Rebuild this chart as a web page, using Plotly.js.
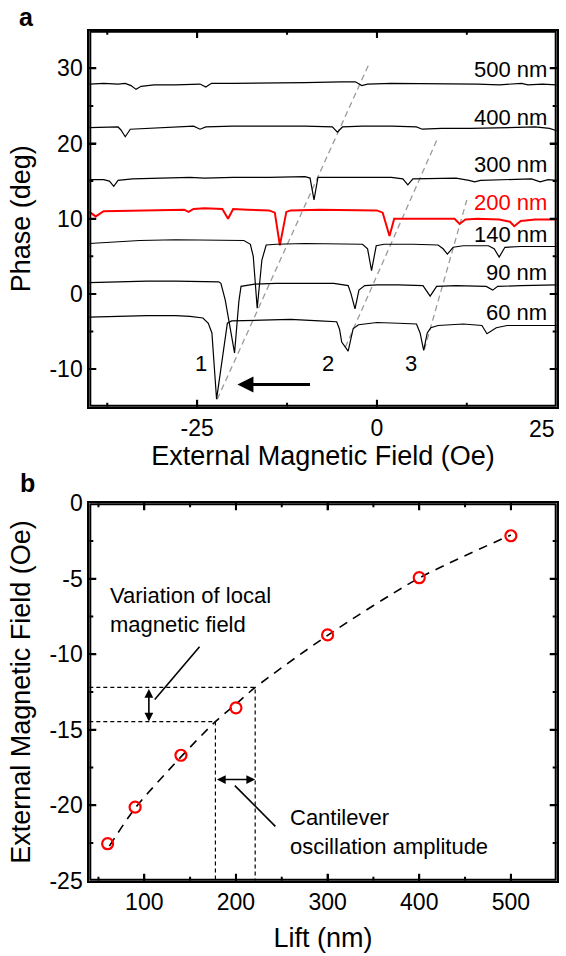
<!DOCTYPE html>
<html>
<head>
<meta charset="utf-8">
<script src="https://cdn.plot.ly/plotly-3.0.1.min.js"></script>
<style>html,body{margin:0;padding:0;background:#fff;}#chart{width:566px;height:956px;}</style>
</head>
<body>
<div id="chart"></div>
<script>
// ---------- Panel a: phase traces (field in Oe, phase in deg) ----------
const field500 = [-40,-38,-36,-35,-34.2,-33.5,-32.8,-31,-28,-26,-24.6,-23.8,-23.0,-20,-15,-10,-5,-3,-2.1,-1.3,2,6,10,14,17,19,20.1,21,23,25];
const phase500 = [27.9,28.0,27.9,28.0,27.7,27.2,27.6,27.8,27.8,27.9,27.9,27.5,28.0,28.0,28.1,28.1,28.2,28.2,27.7,27.9,28.0,28.0,27.9,27.9,27.8,27.9,28.0,27.8,27.9,27.8];
const field400 = [-40,-37,-36,-35.6,-35.0,-34.3,-32,-28,-25.5,-24.6,-23.8,-20,-15,-10,-6.2,-5.5,-4.8,-2,2,5.5,6.3,9,13,17,20,22,24,25];
const phase400 = [22.1,22.1,22.2,21.8,20.9,21.9,22.0,22.2,22.3,21.9,22.2,22.3,22.3,22.3,22.2,21.5,22.2,22.3,22.3,22.2,21.9,22.0,22.0,22.1,22.1,22.2,22.0,21.7];
const field300 = [-40,-38,-37.2,-36.6,-36.0,-34,-30,-26,-24,-20,-15,-10,-9.3,-8.75,-8.2,-6,-2,2,3.6,4.3,5.0,8,11,12.8,13.6,14.4,18,21.5,22.7,23.8,25];
const phase300 = [15.2,15.2,15.0,14.3,15.1,15.3,15.4,15.5,15.4,15.5,15.5,15.6,15.4,12.5,15.5,15.5,15.6,15.5,15.3,14.5,15.3,15.4,15.4,15.1,14.9,15.1,15.2,15.3,14.9,15.2,15.1];
const field200 = [-40,-39.1,-38,-34,-30,-26.8,-26.2,-25.5,-24,-21.5,-20.7,-20,-18,-15,-14.2,-13.5,-12.6,-12,-8,-4,0,0.8,1.75,2.4,3,6,9,10.8,11.5,12.3,14,17,18.5,19.1,20,22,25];
const phase200 = [10.9,10.3,11.0,11.1,11.2,11.2,10.9,11.3,11.4,11.3,10.0,11.3,11.2,11.1,10.8,6.45,10.9,11.1,11.2,11.2,11.1,10.8,7.7,10.0,10.0,10.1,10.1,10.0,9.3,9.9,10.0,9.9,9.6,9.0,9.7,9.9,9.9];
const field140 = [-40,-37,-33,-28,-24,-21,-18.5,-17.6,-17.2,-16.65,-16.0,-15.4,-14,-10,-6,-2,-1.3,-0.75,-0.1,1,5,8.5,9.2,9.8,10.6,12,15.5,16.3,17.0,17.8,20,25];
const phase140 = [6.7,6.9,7.1,7.2,7.2,7.2,7.1,6.6,5.0,-1.9,4.5,6.5,6.6,6.7,6.7,6.6,6.0,3.1,6.4,6.6,6.6,6.5,6.0,5.3,6.2,6.4,6.4,6.0,4.9,6.2,6.3,6.3];
const field90 = [-40,-36,-32,-28,-24,-22,-21.7,-21.1,-19.8,-19.2,-18.9,-17,-14,-10,-6,-4,-3.6,-3.05,-2.5,-1.7,0,3,6.4,7.4,8.3,11,15.2,16.1,16.8,20,25];
const phase90 = [1.5,1.6,1.7,1.7,1.7,1.6,1.4,-0.8,-7.85,-1.0,1.0,1.3,1.4,1.4,1.4,1.1,0.0,-2.0,0.5,1.1,1.2,1.2,1.1,-0.3,1.0,1.1,1.0,0.5,1.0,1.1,1.2];
const field60 = [-40,-36,-32,-28,-26,-24.2,-23.45,-22.95,-22.3,-20.8,-20.2,-16,-12,-8,-5.6,-5.2,-4.9,-4.0,-3.3,-2.55,0,3,5.5,6.0,6.5,7.0,7.5,8.5,12,14.6,15.3,16.6,18.1,25];
const phase60 = [-3.1,-3.0,-2.9,-2.9,-3.0,-3.2,-3.9,-5.2,-14.0,-3.9,-3.6,-3.5,-3.4,-3.6,-3.7,-4.7,-6.4,-7.6,-4.6,-4.1,-3.8,-3.9,-4.0,-5.2,-7.5,-5.2,-4.5,-4.2,-4.0,-4.2,-5.3,-4.5,-4.2,-4.2];

// gray dashed guides through the dips
const guide1Field = [-22.2, -1.0],  guide1Phase = [-14.0, 30.8];
const guide2Field = [-4.4, 8.35],   guide2Phase = [-7.1, 20.5];
const guide3Field = [6.6, 12.5],    guide3Phase = [-7.4, 12.5];

const traceLabels = ['500 nm','400 nm','300 nm','200 nm','140 nm','90 nm','60 nm'];
const labelPhase  = [29.9, 23.5, 17.2, 12.1, 7.9, 2.8, -2.5];
const dipNames = ['1','2','3'];
const dipNameField = [-24.4, -6.8, 4.75];
const dipNamePhase = [-9.2, -9.2, -9.2];

const aXRange = [-40, 25], aYRange = [-15, 35];
const aXTickVals = [-25, 0, 25], aXTickText = ['-25','0',''];
const aXMinor = [-37.5, -12.5, 12.5];
const aYTickVals = [-10, 0, 10, 20, 30], aYTickText = ['-10','0','10','20','30'];
const aYMinor = [-5, 5, 15, 25];

// ---------- Panel b ----------
const lift = [60, 90, 140, 200, 300, 400, 500];
const switchField = [-22.55, -20.13, -16.69, -13.55, -8.72, -4.93, -2.15];
const fitLift  = [62, 90, 140, 177.6, 200, 221, 300, 400, 500];
const fitField = [-22.7, -20.2, -16.8, -14.46, -13.3, -12.2, -8.75, -4.95, -2.1];
const guideLowLift = [40, 177.6, 177.6], guideLowField = [-14.46, -14.46, -25];
const guideHighLift = [40, 221, 221],    guideHighField = [-12.2, -12.2, -25];

const bXRange = [40, 550], bYRange = [-25, 0];
const bXTickVals = [100, 200, 300, 400, 500], bXTickText = ['100','200','300','400','500'];
const bXMinor = [50, 150, 250, 350, 450];
const bYTickVals = [0, -5, -10, -15, -20, -25], bYTickText = ['0','-5','-10','-15','-20','-25'];
const bYMinor = [-2.5, -7.5, -12.5, -17.5, -22.5];

const FONT = 'Liberation Sans, Arial, sans-serif';
const gray = '#9a9a9a';
const W = 566, H = 956;
const xDomPx = [89.3, 556.7];
const aYDomPx = [30.7, 406.7];
const bYDomPx = [503.3, 880.7];

const data = [];
[[guide1Field,guide1Phase],[guide2Field,guide2Phase],[guide3Field,guide3Phase]].forEach(g => {
  data.push({x:g[0], y:g[1], xaxis:'x', yaxis:'y', mode:'lines', hoverinfo:'skip',
    line:{color:gray, width:1.3, dash:'6px,4px'}});
});
const series = [[field500,phase500],[field400,phase400],[field300,phase300],[field200,phase200],[field140,phase140],[field90,phase90],[field60,phase60]];
series.forEach((s, i) => {
  const red = traceLabels[i] === '200 nm';
  data.push({x:s[0], y:s[1], xaxis:'x', yaxis:'y', mode:'lines', name:traceLabels[i],
    line:{color: red ? '#ff0000' : '#000000', width: red ? 2 : 1.2}});
});
data.push({x:guideLowLift, y:guideLowField, xaxis:'x2', yaxis:'y2', mode:'lines', hoverinfo:'skip',
  line:{color:'#000', width:1.2, dash:'4px,3px'}});
data.push({x:guideHighLift, y:guideHighField, xaxis:'x2', yaxis:'y2', mode:'lines', hoverinfo:'skip',
  line:{color:'#000', width:1.2, dash:'4px,3px'}});
data.push({x:fitLift, y:fitField, xaxis:'x2', yaxis:'y2', mode:'lines', line:{color:'#000', width:1.6, dash:'9px,7px', shape:'spline', smoothing:0.8}});
data.push({x:lift, y:switchField, xaxis:'x2', yaxis:'y2', mode:'markers',
  marker:{symbol:'circle-open', size:11, color:'#ff0000', line:{color:'#ff0000', width:2.2}}});

function axisCommon(extra) {
  return Object.assign({
    showline:true, linewidth:2, linecolor:'#000000', mirror:'allticks',
    ticks:'inside', ticklen:7, tickwidth:2, tickcolor:'#000000',
    showgrid:false, zeroline:false, tickmode:'array',
    tickfont:{family:FONT, size:23, color:'#000'},
  }, extra);
}
const xd = [xDomPx[0]/W, xDomPx[1]/W];
const layout = {
  width:W, height:H, margin:{l:0, r:0, t:0, b:0}, showlegend:false,
  font:{family:FONT, color:'#000'},
  xaxis: axisCommon({domain:xd, anchor:'y', range:aXRange, tickvals:aXTickVals, ticktext:aXTickText,
    title:{text:'External Magnetic Field (Oe)', font:{family:FONT, size:27, color:'#000'}, standoff:5}}),
  yaxis: axisCommon({domain:[1-aYDomPx[1]/H, 1-aYDomPx[0]/H], anchor:'x', range:aYRange, tickvals:aYTickVals, ticktext:aYTickText,
    title:{text:'Phase (deg)', font:{family:FONT, size:27, color:'#000'}, standoff:11}}),
  xaxis2: axisCommon({domain:xd, anchor:'y2', range:bXRange, tickvals:bXTickVals, ticktext:bXTickText,
    title:{text:'Lift (nm)', font:{family:FONT, size:27, color:'#000'}, standoff:14}}),
  yaxis2: axisCommon({domain:[1-bYDomPx[1]/H, 1-bYDomPx[0]/H], anchor:'x2', range:bYRange, tickvals:bYTickVals, ticktext:bYTickText,
    title:{text:'External Magnetic Field (Oe)', font:{family:FONT, size:27, color:'#000'}, standoff:11}}),
  annotations: [], shapes: []
};

// frame + inside ticks on all four sides, as data-referenced shapes (lengths converted from pixels)
function addFrame(xr, yr, xRange, yRange, yPx, xMajor, xMinor, yMajor, yMinor) {
  const pxX = (xDomPx[1] - xDomPx[0]) / (xRange[1] - xRange[0]);
  const pxY = (yPx[1] - yPx[0]) / (yRange[1] - yRange[0]);
  const ln = {color:'#000', width:2};
  layout.shapes.push({type:'rect', xref:xr, yref:yr, x0:xRange[0], x1:xRange[1], y0:yRange[0], y1:yRange[1],
    line:{color:'#000', width:4}, fillcolor:'rgba(0,0,0,0)', layer:'above'});
  const inside = v => v > Math.min(...xRange) && v < Math.max(...xRange);
  const insideY = v => v > Math.min(...yRange) && v < Math.max(...yRange);
  const xt = (vals, len) => vals.filter(inside).forEach(v => {
    const d = len / pxY;
    layout.shapes.push({type:'line', xref:xr, yref:yr, x0:v, x1:v, y0:yRange[0], y1:yRange[0] + d, line:ln, layer:'above'});
    layout.shapes.push({type:'line', xref:xr, yref:yr, x0:v, x1:v, y0:yRange[1], y1:yRange[1] - d, line:ln, layer:'above'});
  });
  const yt = (vals, len) => vals.filter(insideY).forEach(v => {
    const d = len / pxX;
    layout.shapes.push({type:'line', xref:xr, yref:yr, x0:xRange[0], x1:xRange[0] + d, y0:v, y1:v, line:ln, layer:'above'});
    layout.shapes.push({type:'line', xref:xr, yref:yr, x0:xRange[1], x1:xRange[1] - d, y0:v, y1:v, line:ln, layer:'above'});
  });
  xt(xMajor, 7); xt(xMinor, 4); yt(yMajor, 7); yt(yMinor, 4);
}
addFrame('x', 'y', aXRange, aYRange, aYDomPx, aXTickVals, aXMinor, aYTickVals, aYMinor);
addFrame('x2', 'y2', bXRange, bYRange, bYDomPx, bXTickVals, bXMinor, bYTickVals, bYMinor);

traceLabels.forEach((t, i) => {
  layout.annotations.push({xref:'x', yref:'y', x:23.9, y:labelPhase[i], text:t, showarrow:false,
    xanchor:'right', yanchor:'middle', font:{family:FONT, size:22, color: t === '200 nm' ? '#ff0000' : '#000'}});
});
dipNames.forEach((t, i) => {
  layout.annotations.push({xref:'x', yref:'y', x:dipNameField[i], y:dipNamePhase[i], text:t, showarrow:false,
    xanchor:'center', yanchor:'middle', font:{family:FONT, size:22, color:'#000'}});
});
// last x tick label of panel a, kept inside the page like the reference
layout.annotations.push({xref:'paper', yref:'paper', x:557/W, y:1-429/H, text:'25', showarrow:false,
  xanchor:'right', yanchor:'middle', font:{family:FONT, size:23, color:'#000'}});
layout.annotations.push({xref:'x', yref:'y', axref:'x', ayref:'y', x:-19.4, y:-12.05, ax:-9.1, ay:-12.05,
  text:'', showarrow:true, arrowhead:2, arrowsize:1, arrowwidth:3.2, arrowcolor:'#000'});
layout.annotations.push({xref:'paper', yref:'paper', x:26/W, y:1-17/H, text:'<b>a</b>', showarrow:false,
  xanchor:'center', yanchor:'middle', font:{family:FONT, size:25, color:'#000'}});
layout.annotations.push({xref:'paper', yref:'paper', x:27/W, y:1-483/H, text:'<b>b</b>', showarrow:false,
  xanchor:'center', yanchor:'middle', font:{family:FONT, size:25, color:'#000'}});
layout.annotations.push({xref:'x2', yref:'y2', x:60.3, y:-7.1, text:'Variation of local<br>magnetic field', showarrow:false,
  xanchor:'left', yanchor:'middle', align:'left', font:{family:FONT, size:22, color:'#000'}});
layout.annotations.push({xref:'x2', yref:'y2', x:257, y:-21.8, text:'Cantilever<br>oscillation amplitude', showarrow:false,
  xanchor:'left', yanchor:'middle', align:'left', font:{family:FONT, size:22, color:'#000'}});
layout.annotations.push({xref:'x2', yref:'y2', axref:'x2', ayref:'y2', x:105, y:-14.46, ax:105, ay:-12.2,
  text:'', showarrow:true, arrowhead:2, startarrowhead:2, arrowside:'end+start', arrowsize:1.1, startarrowsize:1.1, arrowwidth:1.6, arrowcolor:'#000'});
layout.annotations.push({xref:'x2', yref:'y2', axref:'x2', ayref:'y2', x:221, y:-18.3, ax:177.6, ay:-18.3,
  text:'', showarrow:true, arrowhead:2, startarrowhead:2, arrowside:'end+start', arrowsize:1.1, startarrowsize:1.1, arrowwidth:1.6, arrowcolor:'#000'});
layout.shapes.push({type:'line', xref:'x2', yref:'y2', x0:160.3, y0:-9.5, x1:111.4, y1:-13.0, line:{color:'#000', width:1.6}});
layout.shapes.push({type:'line', xref:'x2', yref:'y2', x0:198.8, y0:-18.7, x1:243, y1:-21.4, line:{color:'#000', width:1.6}});

Plotly.newPlot('chart', data, layout, {staticPlot:true, displayModeBar:false});
</script>
</body>
</html>
